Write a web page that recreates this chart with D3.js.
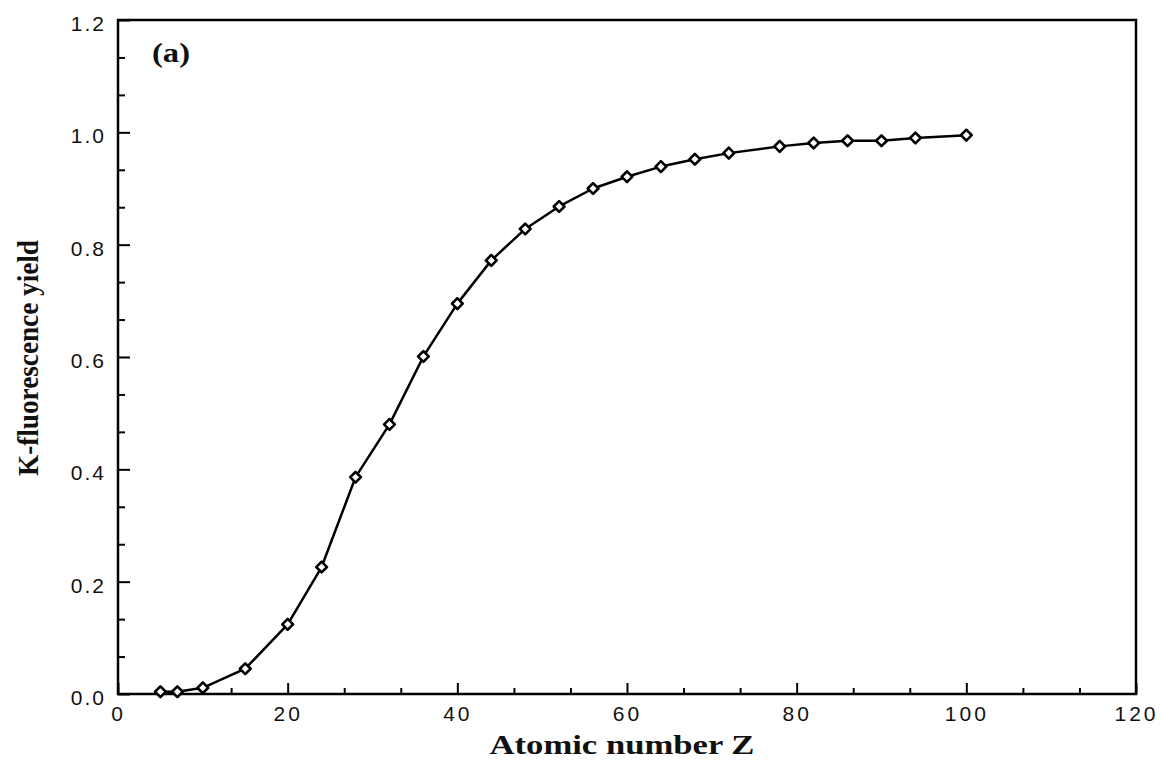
<!DOCTYPE html>
<html><head><meta charset="utf-8">
<script src="https://cdn.jsdelivr.net/npm/d3@7"></script>
<style>
body{margin:0;background:#fff;}
svg{display:block;}
</style></head>
<body>
<svg id="chart" width="1162" height="760"></svg>
<script>
// Data
const atomicNumber = [5, 7, 10, 15, 20, 24, 28, 32, 36, 40, 44, 48, 52, 56, 60, 64, 68, 72, 78, 82, 86, 90, 94, 100];
const yieldK =       [0.004, 0.004, 0.011, 0.045, 0.124, 0.226, 0.386, 0.480, 0.601, 0.695, 0.772, 0.828, 0.868, 0.900, 0.921, 0.939, 0.952, 0.963, 0.975, 0.981, 0.985, 0.985, 0.990, 0.995];
const xTicks = [0, 20, 40, 60, 80, 100, 120];
const yTicks = [0.0, 0.2, 0.4, 0.6, 0.8, 1.0, 1.2];
const xLabel = "Atomic number Z";
const yLabel = "K-fluorescence yield";
const panelLabel = "(a)";

const svg = d3.select("#chart");
const L = 118, R = 1136, T = 20, B = 694;
const x = d3.scaleLinear().domain([0, 120]).range([L, R]);
const y = d3.scaleLinear().domain([0, 1.2]).range([B, T]);

const xMinor = d3.range(0, 120.001, 20 / 3).filter(v => Math.abs(v / 20 - Math.round(v / 20)) > 1e-6);
const yMinor = d3.range(0, 1.2001, 0.2 / 3).filter(v => Math.abs(v / 0.2 - Math.round(v / 0.2)) > 1e-6);

const tickFont = "Liberation Sans, Arial, sans-serif";
const serif = "Liberation Serif, Times New Roman, serif";

// bottom axis major
const gx = svg.append("g").attr("transform", `translate(0,${B})`)
  .call(d3.axisBottom(x).tickValues(xTicks).tickSize(-11).tickPadding(12).tickFormat(d3.format("d")));
gx.select(".domain").remove();
gx.selectAll("line").attr("stroke", "#000").attr("stroke-width", 2);
gx.selectAll("text").attr("font-family", tickFont).attr("font-size", 21).attr("letter-spacing", 3).attr("fill", "#111");

const gxm = svg.append("g").attr("transform", `translate(0,${B})`)
  .call(d3.axisBottom(x).tickValues(xMinor).tickSize(-6).tickFormat(""));
gxm.select(".domain").remove();
gxm.selectAll("line").attr("stroke", "#000").attr("stroke-width", 2);

// left axis major
const gy = svg.append("g").attr("transform", `translate(${L},0)`)
  .call(d3.axisLeft(y).tickValues(yTicks).tickSize(-12).tickPadding(12).tickFormat(d3.format(".1f")));
gy.select(".domain").remove();
gy.selectAll("line").attr("stroke", "#000").attr("stroke-width", 2);
gy.selectAll("text").attr("font-family", tickFont).attr("font-size", 21).attr("letter-spacing", 2).attr("fill", "#111").attr("dy", "0.5em");

const gym = svg.append("g").attr("transform", `translate(${L},0)`)
  .call(d3.axisLeft(y).tickValues(yMinor).tickSize(-7).tickFormat(""));
gym.select(".domain").remove();
gym.selectAll("line").attr("stroke", "#000").attr("stroke-width", 2);

// frame
svg.append("rect").attr("x", L).attr("y", T).attr("width", R - L).attr("height", B - T)
  .attr("fill", "none").attr("stroke", "#000").attr("stroke-width", 2.5);

// line
const pts = atomicNumber.map((z, i) => [z, yieldK[i]]);
const line = d3.line().x(d => x(d[0])).y(d => y(d[1])).curve(d3.curveLinear);
svg.append("path").datum(pts).attr("d", line).attr("fill", "none").attr("stroke", "#000")
  .attr("stroke-width", 2.5).attr("stroke-linejoin", "round");

// markers
const sym = d3.symbol().type(d3.symbolSquare).size(58);
svg.append("g").selectAll("path").data(pts).join("path")
  .attr("d", sym)
  .attr("transform", d => `translate(${x(d[0])},${y(d[1])}) rotate(45)`)
  .attr("fill", "#fff").attr("stroke", "#000").attr("stroke-width", 2.6).attr("stroke-linejoin", "round");

// labels
svg.append("text").attr("x", 622).attr("y", 754).attr("text-anchor", "middle")
  .attr("font-family", serif).attr("font-weight", "bold").attr("font-size", 28)
  .attr("textLength", 265).attr("lengthAdjust", "spacingAndGlyphs")
  .attr("fill", "#111").text(xLabel);
svg.append("text").attr("transform", `translate(38,358) rotate(-90)`).attr("text-anchor", "middle")
  .attr("font-family", serif).attr("font-weight", "bold").attr("font-size", 30)
  .attr("textLength", 236).attr("lengthAdjust", "spacingAndGlyphs")
  .attr("fill", "#111").text(yLabel);
svg.append("text").attr("x", 152).attr("y", 62)
  .attr("font-family", serif).attr("font-weight", "bold").attr("font-size", 28)
  .attr("textLength", 38).attr("lengthAdjust", "spacingAndGlyphs")
  .attr("fill", "#111").text(panelLabel);
</script>
</body></html>
